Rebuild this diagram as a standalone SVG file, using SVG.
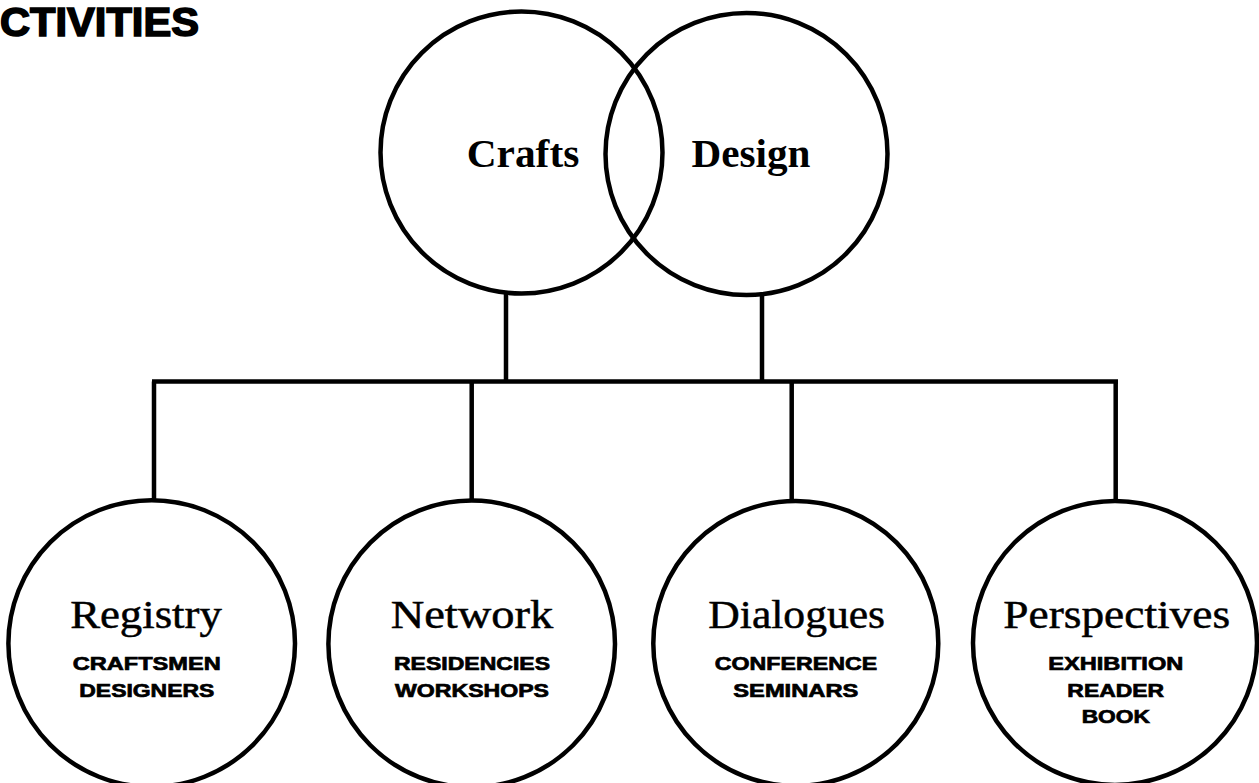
<svg xmlns="http://www.w3.org/2000/svg" width="1259" height="783" viewBox="0 0 1259 783">
<style>
.c{fill:#fff;stroke:#000;stroke-width:4.5}
.ln{stroke:#000;stroke-width:4.5;fill:none;stroke-linecap:butt}
.h{font-family:"Liberation Serif","Times New Roman",serif;font-size:40px;fill:#000;stroke:#000;stroke-width:0.5;text-anchor:middle}
.hb{font-family:"Liberation Serif","Times New Roman",serif;font-size:40px;font-weight:bold;fill:#000;text-anchor:middle}
.s{font-family:"Liberation Sans",Arial,sans-serif;font-size:18.5px;font-weight:bold;fill:#000;stroke:#000;stroke-width:0.7;text-anchor:middle}
.t{font-family:"Liberation Sans",Arial,sans-serif;font-size:40px;font-weight:bold;fill:#000;stroke:#000;stroke-width:1.6}
</style>
<rect width="1259" height="783" fill="#fff"/>
<text class="t" x="0" y="36" textLength="199" lengthAdjust="spacingAndGlyphs">CTIVITIES</text>
<g id="connectors">
<path class="ln" d="M506 294V381.5M762 295V381.5M152 381.5H1118M154 381.5V500M471.7 381.5V500.7M791.7 381.5V500.7M1115.7 381.5V500.7"/>
</g>
<g id="crafts">
<circle class="c" cx="521.5" cy="152.5" r="141" style="fill:none"/>
</g>
<g id="design">
<circle class="c" cx="746.5" cy="154" r="141" style="fill:none"/>
</g>
<text class="hb" x="523" y="166.7" textLength="112.6" lengthAdjust="spacingAndGlyphs">Crafts</text>
<text class="hb" x="751" y="166.7" textLength="119" lengthAdjust="spacingAndGlyphs">Design</text>
<g id="registry">
<circle class="c" cx="151.7" cy="643.5" r="143.3"/>
<text class="h" x="146" y="628.3" textLength="151.7" lengthAdjust="spacingAndGlyphs">Registry</text>
<text class="s" x="146.7" y="670" textLength="148" lengthAdjust="spacingAndGlyphs">CRAFTSMEN</text>
<text class="s" x="146.8" y="696.7" textLength="135" lengthAdjust="spacingAndGlyphs">DESIGNERS</text>
</g>
<g id="network">
<circle class="c" cx="471.7" cy="643.9" r="143.3"/>
<text class="h" x="472" y="628.3" textLength="162.7" lengthAdjust="spacingAndGlyphs">Network</text>
<text class="s" x="472" y="670" textLength="156" lengthAdjust="spacingAndGlyphs">RESIDENCIES</text>
<text class="s" x="472" y="696.7" textLength="154" lengthAdjust="spacingAndGlyphs">WORKSHOPS</text>
</g>
<g id="dialogues">
<circle class="c" cx="795.8" cy="643.4" r="142.5"/>
<text class="h" x="796.7" y="628.3" textLength="176.7" lengthAdjust="spacingAndGlyphs">Dialogues</text>
<text class="s" x="796" y="670" textLength="162.3" lengthAdjust="spacingAndGlyphs">CONFERENCE</text>
<text class="s" x="795.8" y="696.7" textLength="125" lengthAdjust="spacingAndGlyphs">SEMINARS</text>
</g>
<g id="perspectives">
<circle class="c" cx="1115" cy="642.9" r="142"/>
<text class="h" x="1116.7" y="628.3" textLength="226.7" lengthAdjust="spacingAndGlyphs">Perspectives</text>
<text class="s" x="1115.8" y="670" textLength="135" lengthAdjust="spacingAndGlyphs">EXHIBITION</text>
<text class="s" x="1115.7" y="696.7" textLength="96.7" lengthAdjust="spacingAndGlyphs">READER</text>
<text class="s" x="1115.8" y="723.3" textLength="68.3" lengthAdjust="spacingAndGlyphs">BOOK</text>
</g>
</svg>
